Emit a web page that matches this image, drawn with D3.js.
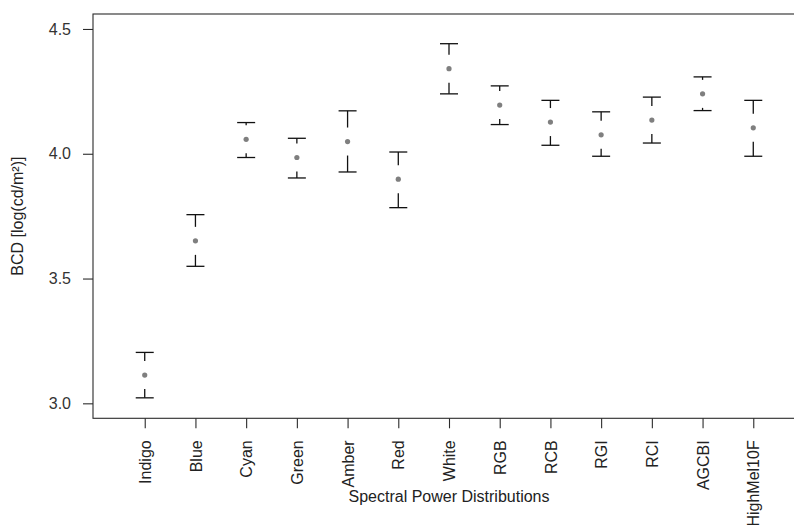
<!DOCTYPE html>
<html>
<head>
<meta charset="utf-8">
<script src="https://cdn.jsdelivr.net/npm/d3@7"></script>
<style>
  html, body { margin: 0; padding: 0; background: #fff; }
  svg { display: block; font-family: "Liberation Sans", Arial, sans-serif; }
</style>
</head>
<body>
<svg id="chart" width="794" height="525"></svg>
<script>
const categories = ["Indigo","Blue","Cyan","Green","Amber","Red","White","RGB","RCB","RGI","RCI","AGCBI","HighMel10F"];
const meanValues = [3.113,3.651,4.058,3.985,4.049,3.898,4.341,4.195,4.127,4.076,4.135,4.240,4.104];
const upperValues = [3.204,3.756,4.125,4.062,4.172,4.007,4.441,4.272,4.214,4.168,4.227,4.308,4.214];
const lowerValues = [3.022,3.549,3.985,3.903,3.927,3.784,4.240,4.117,4.034,3.990,4.043,4.173,3.990];
const yTicks = [3.0, 3.5, 4.0, 4.5];

(function () {
const svg = d3.select("#chart");
const pL = 93, pR = 805, pT = 14, pB = 418.3;

const x = d3.scaleLinear().domain([-0.02, 14.02]).range([pL, pR]);
const y = d3.scaleLinear().domain([2.94, 4.56]).range([pB, pT]);

const data = categories.map((c, i) => ({ c, i: i + 1, m: meanValues[i], u: upperValues[i], l: lowerValues[i] }));
const ink = "#2b2b2b";

// Box
svg.append("rect").attr("x", pL).attr("y", pT).attr("width", pR - pL).attr("height", pB - pT)
  .attr("fill", "none").attr("stroke", ink).attr("stroke-width", 1.1);

// Y axis
const yAxis = svg.append("g").attr("transform", `translate(${pL},0)`)
  .call(d3.axisLeft(y).tickValues(yTicks).tickFormat(d3.format(".1f")).tickSize(10).tickPadding(12));
yAxis.select(".domain").remove();
yAxis.selectAll("line").attr("stroke", ink).attr("stroke-width", 1.1);
yAxis.selectAll("text").attr("font-size", 16).attr("fill", "#333").attr("font-family", "Liberation Sans, Arial, sans-serif");

// X axis
const xAxis = svg.append("g").attr("transform", `translate(0,${pB})`)
  .call(d3.axisBottom(x).tickValues(data.map(d => d.i)).tickFormat((d) => categories[d - 1]).tickSize(10));
xAxis.select(".domain").remove();
xAxis.selectAll("line").attr("stroke", ink).attr("stroke-width", 1.1);
xAxis.selectAll("text")
  .attr("font-size", 16).attr("fill", "#222").attr("font-family", "Liberation Sans, Arial, sans-serif")
  .attr("transform", "rotate(-90)")
  .attr("text-anchor", "end")
  .attr("x", -22).attr("y", 0).attr("dy", "0.35em");

// Error bars with gap around the point
const gap = 14, cap = 9;
const bars = svg.append("g").attr("stroke", "#111").attr("stroke-width", 1.3);
data.forEach(d => {
  const ym = y(d.m), yu = y(d.u), yl = y(d.l);
  if (ym - gap > yu) bars.append("line").attr("x1", x(d.i)).attr("x2", x(d.i)).attr("y1", yu).attr("y2", ym - gap);
  if (ym + gap < yl) bars.append("line").attr("x1", x(d.i)).attr("x2", x(d.i)).attr("y1", ym + gap).attr("y2", yl);
  bars.append("line").attr("x1", x(d.i) - cap).attr("x2", x(d.i) + cap).attr("y1", yu).attr("y2", yu);
  bars.append("line").attr("x1", x(d.i) - cap).attr("x2", x(d.i) + cap).attr("y1", yl).attr("y2", yl);
});

// Points
svg.append("g").selectAll("circle").data(data).join("circle")
  .attr("cx", d => x(d.i)).attr("cy", d => y(d.m)).attr("r", 2.6).attr("fill", "#7f7f7f");

// Axis titles
svg.append("text").attr("x", (pL + pR) / 2).attr("y", 502).attr("text-anchor", "middle")
  .attr("font-size", 16).attr("fill", "#222").text("Spectral Power Distributions");
svg.append("text").attr("transform", `translate(23,${(pT + pB) / 2}) rotate(-90)`).attr("text-anchor", "middle")
  .attr("font-size", 16).attr("fill", "#222").text("BCD [log(cd/m²)]");
})();
</script>
</body>
</html>
